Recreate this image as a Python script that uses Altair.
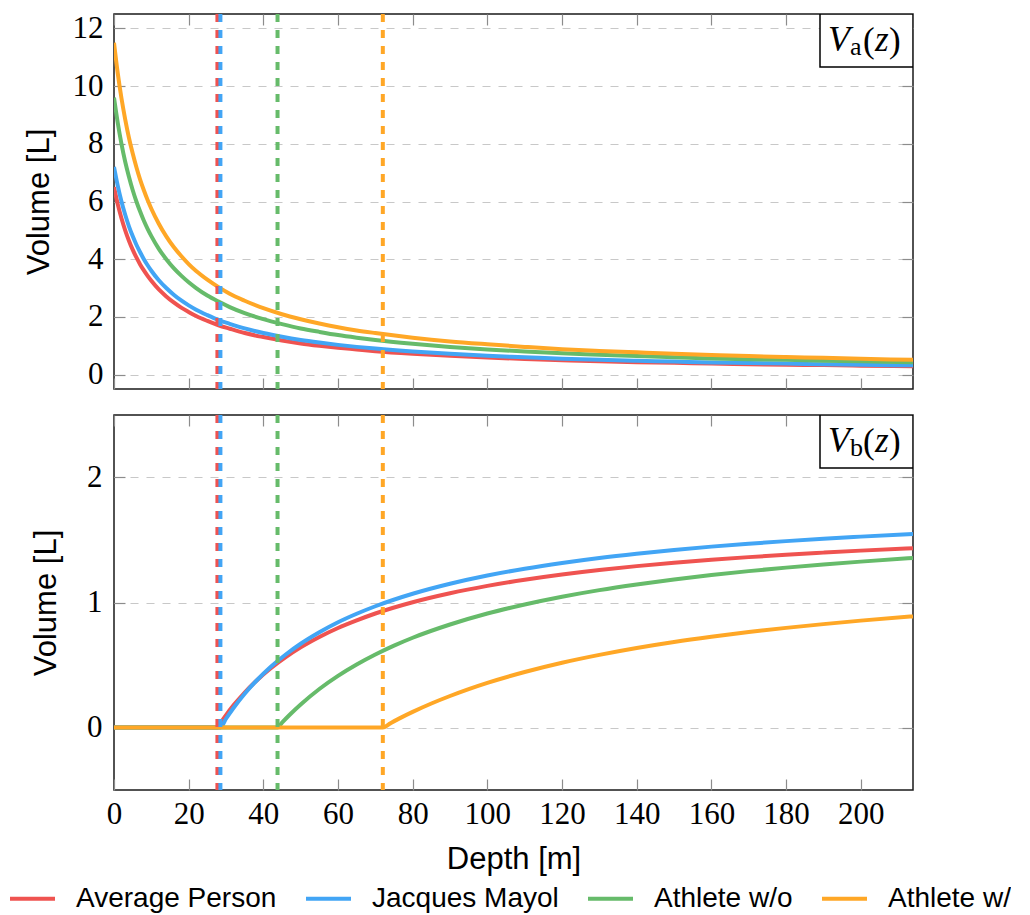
import altair as alt
import pandas as pd

# ---------------- data ----------------
series = ["Average Person", "Jacques Mayol", "Athlete w/o", "Athlete w/"]
colors = ["#EF5350", "#42A5F5", "#66BB6A", "#FFA726"]

# top panel: V_a(z)
depth_a = [0, 1, 2, 3, 4, 5, 6, 7, 8, 9, 10, 12, 14, 16, 18, 20, 22, 25, 28, 31,
           35, 40, 45, 50, 55, 60, 65, 70, 80, 90, 100, 110, 120, 130, 140, 150, 160,
           170, 180, 190, 200, 214]
va_average = [6.50, 5.91, 5.42, 5.00, 4.64, 4.33, 4.06, 3.82, 3.61, 3.42, 3.25, 2.95, 2.71, 2.50,
              2.32, 2.17, 2.03, 1.86, 1.71, 1.59, 1.44, 1.30, 1.18, 1.08, 1.00, 0.93, 0.87, 0.81,
              0.72, 0.65, 0.59, 0.54, 0.50, 0.46, 0.43, 0.41, 0.38, 0.36, 0.34, 0.33, 0.31, 0.29]
va_mayol = [7.20, 6.55, 6.00, 5.54, 5.14, 4.80, 4.50, 4.24, 4.00, 3.79, 3.60, 3.27, 3.00, 2.77,
            2.57, 2.40, 2.25, 2.06, 1.89, 1.76, 1.60, 1.44, 1.31, 1.20, 1.11, 1.03, 0.96, 0.90,
            0.80, 0.72, 0.65, 0.60, 0.55, 0.51, 0.48, 0.45, 0.42, 0.40, 0.38, 0.36, 0.34, 0.32]
va_athlete_wo = [9.60, 8.73, 8.00, 7.38, 6.86, 6.40, 6.00, 5.65, 5.33, 5.05, 4.80, 4.36, 4.00, 3.69,
                 3.43, 3.20, 3.00, 2.74, 2.53, 2.34, 2.13, 1.92, 1.75, 1.60, 1.48, 1.37, 1.28, 1.20,
                 1.07, 0.96, 0.87, 0.80, 0.74, 0.69, 0.64, 0.60, 0.56, 0.53, 0.51, 0.48, 0.46, 0.43]
va_athlete_w = [11.50, 10.45, 9.58, 8.85, 8.21, 7.67, 7.19, 6.76, 6.39, 6.05, 5.75, 5.23, 4.79, 4.42,
                4.11, 3.83, 3.59, 3.29, 3.03, 2.80, 2.56, 2.30, 2.09, 1.92, 1.77, 1.64, 1.53, 1.44,
                1.28, 1.15, 1.05, 0.96, 0.88, 0.82, 0.77, 0.72, 0.68, 0.64, 0.61, 0.58, 0.55, 0.51]

# bottom panel: V_b(z)
depth_b_average = [0, 27.7, 29, 30, 32, 35, 38, 42, 46, 50, 55, 60, 65, 70, 80, 90, 100, 110, 120,
                   130, 140, 150, 160, 170, 180, 190, 200, 214]
vb_average = [0, 0, 0.057, 0.099, 0.177, 0.280, 0.370, 0.474, 0.563, 0.641, 0.724, 0.796, 0.857,
              0.912, 1.002, 1.074, 1.133, 1.182, 1.224, 1.260, 1.291, 1.318, 1.342, 1.363, 1.382,
              1.399, 1.415, 1.434]
depth_b_mayol = [0, 28.5, 30, 32, 35, 38, 42, 46, 50, 55, 60, 65, 70, 80, 90, 100, 110, 120, 130,
                 140, 150, 160, 170, 180, 190, 200, 214]
vb_mayol = [0, 0, 0.070, 0.156, 0.270, 0.370, 0.486, 0.584, 0.670, 0.762, 0.842, 0.910, 0.970,
            1.070, 1.150, 1.216, 1.270, 1.316, 1.356, 1.390, 1.420, 1.447, 1.470, 1.491, 1.510,
            1.527, 1.549]
depth_b_athlete_wo = [0, 43.8, 45, 47, 50, 55, 60, 65, 70, 75, 80, 90, 100, 110, 120, 130, 140,
                      150, 160, 170, 180, 190, 200, 214]
vb_athlete_wo = [0, 0, 0.039, 0.100, 0.184, 0.308, 0.413, 0.504, 0.584, 0.655, 0.718, 0.824, 0.912,
                 0.984, 1.046, 1.099, 1.144, 1.184, 1.220, 1.251, 1.279, 1.304, 1.327, 1.356]
depth_b_athlete_w = [0, 72, 74, 77, 80, 85, 90, 95, 100, 110, 120, 130, 140, 150, 160, 170, 180,
                     190, 200, 214]
vb_athlete_w = [0, 0, 0.033, 0.081, 0.125, 0.192, 0.252, 0.307, 0.357, 0.444, 0.518, 0.581, 0.636,
                0.684, 0.726, 0.764, 0.797, 0.827, 0.855, 0.889]

# dashed vertical markers (critical depths)
critical_depth = [27.7, 28.5, 43.8, 72.0]

x_ticks = [0, 20, 40, 60, 80, 100, 120, 140, 160, 180, 200]
ya_ticks = [0, 2, 4, 6, 8, 10, 12]
yb_ticks = [0, 1, 2]

label_main = "V"
label_sub_a = "a"
label_sub_b = "b"
label_arg = ["(", "z", ")"]

# ---------------- tables ----------------
def long_table(depths, values):
    rows = []
    for s, d, v in zip(series, depths, values):
        for dd, vv in zip(d, v):
            rows.append({"series": s, "depth": dd, "volume": vv})
    return pd.DataFrame(rows)

df_a = long_table([depth_a] * 4, [va_average, va_mayol, va_athlete_wo, va_athlete_w])
df_b = long_table([depth_b_average, depth_b_mayol, depth_b_athlete_wo, depth_b_athlete_w],
                  [vb_average, vb_mayol, vb_athlete_wo, vb_athlete_w])
df_rules = pd.DataFrame({"series": series, "depth": critical_depth})
one_row = pd.DataFrame({"k": [0]})

# ---------------- styling ----------------
W, H = 799, 375
SERIF = "Liberation Serif"
SANS = "Liberation Sans"

xscale = alt.Scale(domain=[0, 214], nice=False, zero=False)
cscale = alt.Scale(domain=series, range=colors)

legend = alt.Legend(
    orient="none", legendX=-106, legendY=860, direction="horizontal", columns=4,
    title=None, symbolType="stroke", symbolSize=2025, symbolStrokeWidth=4,
    symbolDash=[1, 0], labelFont=SANS, labelFontSize=28, labelColor="black",
    labelOffset=19, columnPadding=21, labelLimit=500,
)


def tick_axis(orient, vals):
    return alt.Axis(orient=orient, values=vals, offset=-11, tickSize=11, ticks=True,
                    labels=False, domain=False, grid=False, title=None,
                    minExtent=0, maxExtent=11,
                    tickColor="#8c8c8c", tickWidth=1.2)


def panel(df, ydomain, yticks, show_x, sub, ytitle_pad, ylabel_pad):
    yscale = alt.Scale(domain=ydomain, nice=False, zero=False)
    yaxis = alt.Axis(orient="left", values=yticks, ticks=False, tickSize=0, domain=False,
                     grid=True, gridDash=[8, 8], gridColor="#c8c8c8", gridWidth=1.2,
                     labelFont=SERIF, labelFontSize=31, labelColor="black",
                     labelPadding=ylabel_pad, labelFlush=False,
                     title="Volume [L]", titleFont=SANS, titleFontSize=31,
                     titleFontWeight="normal", titleColor="black", titlePadding=ytitle_pad)
    if show_x:
        xenc = alt.X("depth:Q", scale=xscale, axis=alt.Axis(
            orient="bottom", values=x_ticks, ticks=False, tickSize=0, domain=False, grid=False,
            labelFont=SERIF, labelFontSize=31, labelColor="black", labelPadding=9,
            labelFlush=False, title="Depth [m]", titleFont=SANS, titleFontSize=31,
            titleFontWeight="normal", titleColor="black", titlePadding=15))
    else:
        xenc = alt.X("depth:Q", scale=xscale, axis=None)

    lines = alt.Chart(df).mark_line(strokeWidth=4, interpolate="monotone", clip=True).encode(
        x=xenc,
        y=alt.Y("volume:Q", scale=yscale, axis=yaxis),
        color=alt.Color("series:N", scale=cscale, legend=legend),
    )
    ticks_bl = alt.Chart(df).mark_point(opacity=0).encode(
        x=alt.X("depth:Q", scale=xscale, axis=tick_axis("bottom", x_ticks)),
        y=alt.Y("volume:Q", scale=yscale, axis=tick_axis("left", yticks)),
    )
    ticks_tr = alt.Chart(df).mark_point(opacity=0).encode(
        x=alt.X("depth:Q", scale=xscale, axis=tick_axis("top", x_ticks)),
        y=alt.Y("volume:Q", scale=yscale, axis=tick_axis("right", yticks)),
    )
    rules = alt.Chart(df_rules).mark_rule(strokeWidth=4, strokeDash=[8, 8], clip=True).encode(
        x=alt.X("depth:Q", scale=xscale, axis=None),
        color=alt.Color("series:N", scale=cscale, legend=legend),
    )
    box = alt.Chart(one_row).mark_rect(fill="white", stroke="black", strokeWidth=1.5,
                                       clip=True).encode(
        x=alt.value(W - 93), x2=alt.value(W), y=alt.value(0), y2=alt.value(53)
    )

    def txt(t, dx, y, size, style):
        return alt.Chart(one_row).mark_text(
            text=t, align="left", baseline="alphabetic", font=SERIF, fontSize=size,
            fontStyle=style, color="black"
        ).encode(x=alt.value(W - dx), y=alt.value(y))

    texts = [
        txt(label_main, 85, 37, 36, "italic"),
        txt(sub, 63, 41, 26, "normal"),
        txt(label_arg[0], 50, 38, 35, "normal"),
        txt(label_arg[1], 38, 37, 35, "italic"),
        txt(label_arg[2], 24, 38, 35, "normal"),
    ]
    return alt.layer(ticks_bl, ticks_tr, lines, rules, box, *texts).resolve_axis(
        x="independent", y="independent"
    ).properties(width=W, height=H)


top = panel(df_a, [-0.5, 12.5], ya_ticks, False, label_sub_a, 17, 11)
bottom = panel(df_b, [-0.5, 2.5], yb_ticks, True, label_sub_b, 24, 12)

chart = alt.vconcat(top, bottom, spacing=22).resolve_scale(color="shared").properties(
    padding={"left": 0, "top": 3, "right": 0, "bottom": 0}
).configure_view(stroke="#1a1a1a", strokeWidth=1.5)

chart.save("out.html", embed_options={"renderer": "svg", "actions": False})
